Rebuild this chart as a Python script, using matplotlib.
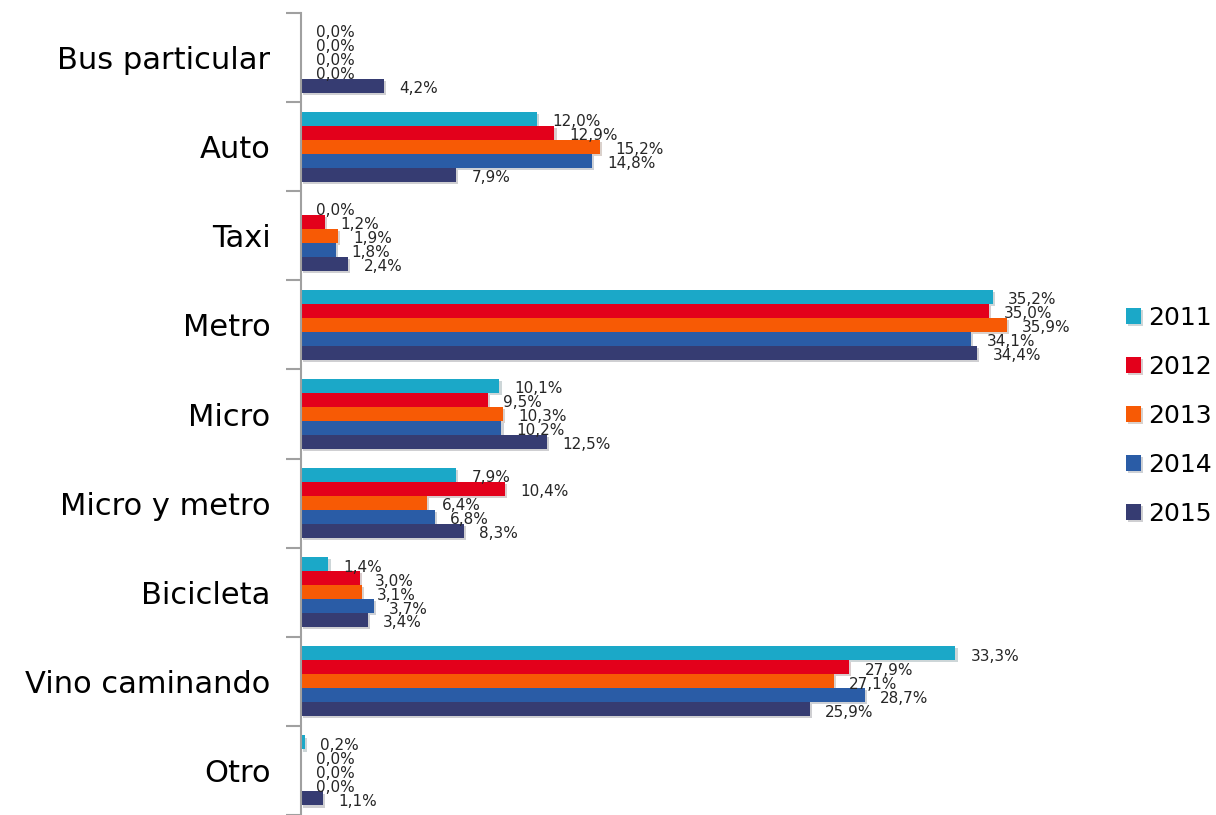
import matplotlib
matplotlib.use("Agg")
import matplotlib.pyplot as plt
import matplotlib.patheffects as pe
import numpy as np

# Data (percent)
categories = ["Bus particular", "Auto", "Taxi", "Metro", "Micro",
              "Micro y metro", "Bicicleta", "Vino caminando", "Otro"]
years = ["2011", "2012", "2013", "2014", "2015"]

v2011 = [0.0, 12.0, 0.0, 35.2, 10.1, 7.9, 1.4, 33.3, 0.2]
v2012 = [0.0, 12.9, 1.2, 35.0, 9.5, 10.4, 3.0, 27.9, 0.0]
v2013 = [0.0, 15.2, 1.9, 35.9, 10.3, 6.4, 3.1, 27.1, 0.0]
v2014 = [0.0, 14.8, 1.8, 34.1, 10.2, 6.8, 3.7, 28.7, 0.0]
v2015 = [4.2, 7.9, 2.4, 34.4, 12.5, 8.3, 3.4, 25.9, 1.1]

series = [v2011, v2012, v2013, v2014, v2015]
colors = ["#1ba8c8", "#e3001b", "#f75a05", "#2a5ca6", "#363c72"]

plt.rcParams['font.family'] = ['DejaVu Sans']

fig = plt.figure(figsize=(12.16, 8.15), dpi=100)
ax = fig.add_axes([0.2475, 0.0, 0.6465, 0.984])

y = np.arange(len(categories))
h = 0.157
shadow = [pe.SimplePatchShadow(offset=(1.5, -1.5), alpha=0.2), pe.Normal()]

for i, (vals, col, yr) in enumerate(zip(series, colors, years)):
    pos = y + (i - 2) * h
    bars = ax.barh(pos, vals, height=h, color=col, label=yr, zorder=2)
    for b in bars:
        b.set_path_effects(shadow)
    for p, v in zip(pos, vals):
        txt = f"{v:.1f}%".replace(".", ",")
        ax.annotate(txt, (v, p), xytext=(11, -2), textcoords="offset points",
                    va="center", ha="left", fontsize=11, color="#262626")

ax.set_xlim(0, 40)
ax.set_ylim(len(categories) - 0.5, -0.5)

ax.set_yticks(y)
ax.set_yticklabels(categories, fontsize=22)
ax.set_yticks(np.arange(len(categories) + 1) - 0.5, minor=True)
ax.tick_params(axis="y", which="major", length=0, pad=22)
ax.tick_params(axis="y", which="minor", length=11, width=1.5, color="#a0a0a0")
ax.set_xticks([])

for s in ["top", "right", "bottom"]:
    ax.spines[s].set_visible(False)
ax.spines["left"].set_color("#a0a0a0")
ax.spines["left"].set_linewidth(1.5)

fig.legend(loc="center left", bbox_to_anchor=(0.926, 0.49), frameon=False,
           fontsize=18, handlelength=0.6, handleheight=0.6, handletextpad=0.3,
           labelspacing=1.0, borderpad=0, borderaxespad=0)

fig.savefig("out.png", dpi=100)
